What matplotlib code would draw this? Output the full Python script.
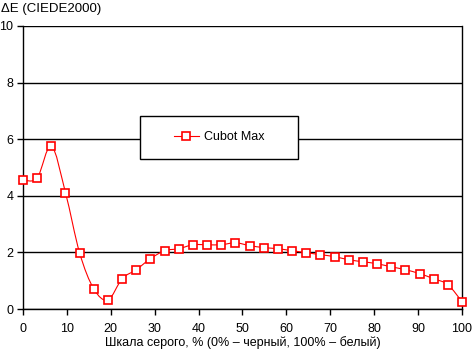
import numpy as np
import matplotlib.pyplot as plt
from matplotlib.path import Path
from matplotlib.patches import PathPatch, Rectangle
from matplotlib.lines import Line2D

plt.rcParams['font.family'] = ['Liberation Sans', 'DejaVu Sans']
plt.rcParams['font.size'] = 9

# grey level, % (32 steps from 0 to 100)
gray = np.linspace(0, 100, 32)
# delta E values
de = [4.56, 4.63, 5.76, 4.11, 1.98, 0.71, 0.32, 1.07, 1.39, 1.78,
      2.06, 2.13, 2.27, 2.27, 2.27, 2.34, 2.24, 2.17, 2.13, 2.06,
      1.99, 1.92, 1.85, 1.74, 1.67, 1.60, 1.49, 1.39, 1.25, 1.07,
      0.86, 0.26]
series_name = 'Cubot Max'
xticks = [0, 10, 20, 30, 40, 50, 60, 70, 80, 90, 100]
yticks = [0, 2, 4, 6, 8, 10]

red = '#ff0000'

fig = plt.figure(figsize=(4.72, 3.52), dpi=100)
ax = fig.add_axes([23/472, 1-309/352, 439/472, 283/352])

# smoothed line like the spreadsheet "smoothed line" option
x = np.asarray(gray, float)
y = np.asarray(de, float)
verts = [(x[0], y[0])]
codes = [Path.MOVETO]
n = len(x)
for i in range(n-1):
    p0 = np.array([x[max(i-1, 0)], y[max(i-1, 0)]])
    p1 = np.array([x[i], y[i]])
    p2 = np.array([x[i+1], y[i+1]])
    p3 = np.array([x[min(i+2, n-1)], y[min(i+2, n-1)]])
    c1 = p1 + (p2 - p0)/6
    c2 = p2 - (p3 - p1)/6
    verts += [tuple(c1), tuple(c2), tuple(p2)]
    codes += [Path.CURVE4]*3
ax.add_patch(PathPatch(Path(verts, codes), fill=False, edgecolor=red, lw=0.8, zorder=3))
ax.plot(gray, de, ls='none', marker='s', ms=5.4, mfc='white', mec=red, mew=1.2,
        zorder=4, clip_on=False)

ax.set_xlim(0, 100)
ax.set_ylim(0, 10)
ax.set_xticks(xticks)
ax.set_yticks(yticks)
ax.yaxis.grid(True, color='black', lw=1.0)
ax.set_axisbelow(True)
for s in ['left', 'bottom', 'right']:
    ax.spines[s].set_color('black')
    ax.spines[s].set_linewidth(1.0)
ax.spines['top'].set_visible(False)
ax.tick_params(axis='both', direction='out', length=4, width=1.0, colors='black')
ax.tick_params(axis='x', pad=6)
ax.tick_params(axis='y', pad=3)

ax.set_xlabel('Шкала серого, % (0% – черный, 100% – белый)', labelpad=1)
fig.text(0.002, 1-9/352, 'ΔE (CIEDE2000)', ha='left', va='center', fontsize=9.5)

# legend box
x0 = (140-23)/439
x1 = (298-23)/439
y0 = (309-159)/283
y1 = (309-116)/283
ax.add_patch(Rectangle((x0, y0), x1-x0, y1-y0, transform=ax.transAxes,
                       facecolor='white', edgecolor='black', lw=1.0, zorder=5))
h = Line2D([], [], color=red, lw=0.8, marker='s', ms=5.4, mfc='white', mec=red, mew=1.2)
leg = ax.legend([h], [series_name], loc='center', bbox_to_anchor=((x0+x1)/2, (y0+y1)/2),
                frameon=False, handlelength=2.0, handletextpad=0.4, fontsize=9)
leg.set_zorder(6)

fig.savefig('out.png', dpi=100)
